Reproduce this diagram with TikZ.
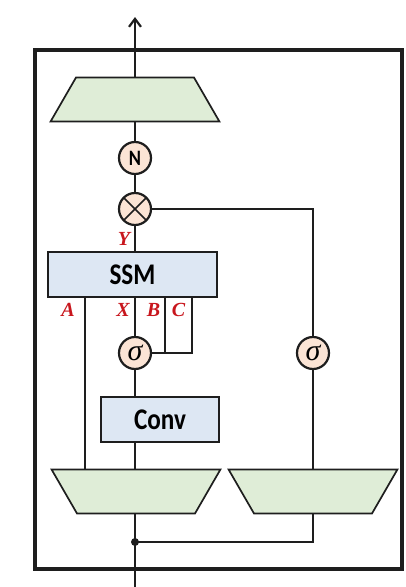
\documentclass[tikz,border=0pt]{standalone}
\usepackage{fontspec}
\usetikzlibrary{shapes.geometric,arrows.meta}
\newfontfamily\condsans{Carlito}[FakeStretch=0.84]
\newfontfamily\labserif{Liberation Serif}
\definecolor{trapgreen}{HTML}{DFEDD7}
\definecolor{boxblue}{HTML}{DDE7F3}
\definecolor{opfill}{HTML}{FBE4D5}
\definecolor{labred}{HTML}{C8161D}
\definecolor{ink}{HTML}{1E1E1E}
\tikzset{
  wire/.style={draw=ink,line width=2.2pt},
  proj/.style={trapezium,draw=ink,line width=1.7pt,fill=trapgreen,
    trapezium left angle=60,trapezium right angle=60,
    inner xsep=59pt,inner ysep=22pt,outer sep=0pt},
  blockbox/.style={rectangle,draw=ink,line width=1.7pt,fill=boxblue,
    inner sep=0pt,outer sep=0pt,font=\condsans\bfseries\fontsize{30}{30}\selectfont},
  opcirc/.style={circle,draw=ink,line width=2.2pt,fill=opfill,minimum size=32pt,
    inner sep=0pt,outer sep=0pt},
  sigtext/.style={font=\labserif\itshape\fontsize{30}{30}\selectfont},
  lab/.style={text=labred,font=\labserif\bfseries\itshape\fontsize{20}{20}\selectfont,inner sep=0pt},
}
\begin{document}
\begin{tikzpicture}[x=1pt,y=-1pt]
\useasboundingbox (0,0) rectangle (406,587);
% outer box
\draw[draw=ink,line width=3.8pt] (35,50) rectangle (402,569);
% nodes
\node[proj] (outproj) at (135,99.5) {};
\node[opcirc,font=\condsans\bfseries\fontsize{22}{22}\selectfont] (norm) at (135,158) {N};
\node[opcirc] (mult) at (135,209) {};
\node[blockbox,minimum width=169pt,minimum height=45pt] (ssm) at (132.5,274.5) {SSM};
\node[opcirc,sigtext] (sigl) at (135,353) {σ};
\node[opcirc,sigtext] (sigr) at (313,353) {σ};
\node[blockbox,minimum width=118pt,minimum height=45pt] (conv) at (160,419.5) {Conv};
\node[proj,shape border rotate=180] (inprojl) at (136,491.5) {};
\node[proj,shape border rotate=180] (inprojr) at (313,491.5) {};
% coordinates
\coordinate (outtip) at (135,17);
\coordinate (inbot) at (135,587);
\coordinate (split) at (135,542);
\coordinate (atop) at (85,297);
\coordinate (btop) at (165,297);
\coordinate (ctop) at (192,297);
% cross in multiply
\draw[draw=ink,line width=1.7pt] (mult.north west) -- (mult.south east)
  (mult.north east) -- (mult.south west);
% wires
\draw[wire,-{Straight Barb[length=8pt,width=12pt,line width=2.2pt]}] (outproj.north) -- (outtip);
\draw[wire] (norm.north) -- (outproj.south);
\draw[wire] (mult.north) -- (norm.south);
\draw[wire] (ssm.north -| mult.south) -- (mult.south);
\draw[wire] (mult.east) -| (sigr.north);
\draw[wire] (sigr.south) -- (inprojr.north);
\draw[wire] (ssm.south -| sigl.north) -- (sigl.north);
\draw[wire] (sigl.south) -- (conv.north -| sigl.south);
\draw[wire] (conv.south -| sigl.south) -- (inprojl.north -| sigl.south);
\draw[wire] (atop) -- (atop |- inprojl.north);
\draw[wire] (btop) -- (btop |- sigl.east);
\draw[wire] (sigl.east) -| (ctop);
\draw[wire] (inbot) -- (inprojl.south -| inbot);
\draw[wire] (split) -| (inprojr.south);
\fill[ink] (split) circle (4pt);
% labels
\node[lab] (ylab) at (124,239) {Y};
\node[lab] (alab) at (68,310) {A};
\node[lab] (xlab) at (123,310) {X};
\node[lab] (blab) at (153.5,310) {B};
\node[lab] (clab) at (178.5,310) {C};
\end{tikzpicture}
\end{document}
